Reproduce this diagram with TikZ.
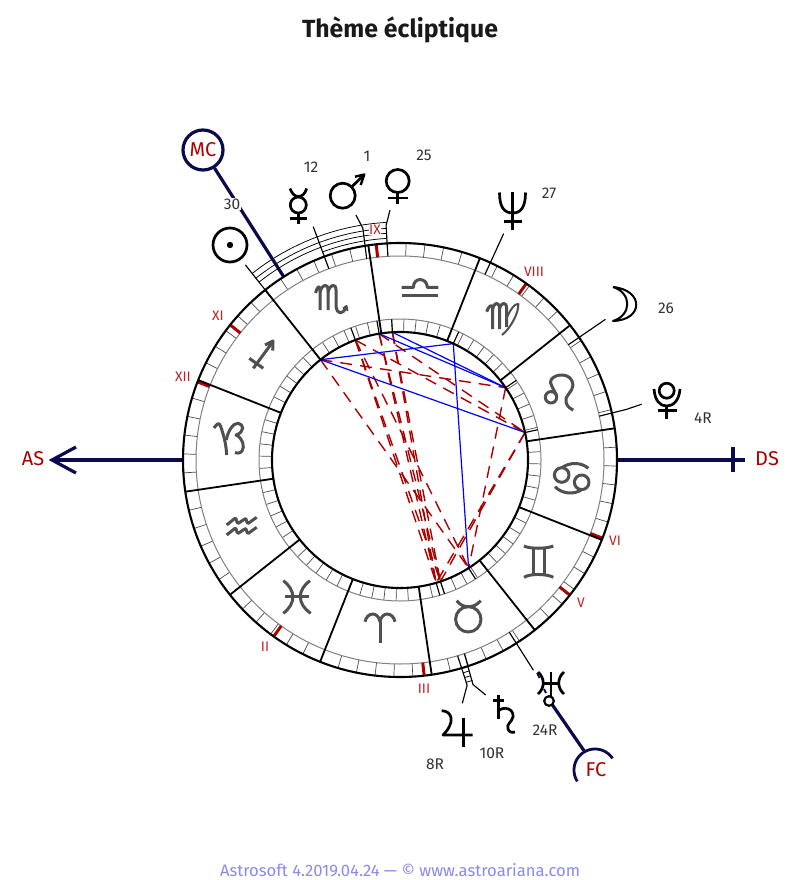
\documentclass[tikz,border=0pt]{standalone}
\usepackage{fontspec}
\setmainfont{Fira Sans}
\definecolor{navy}{HTML}{0A0A4E}
\definecolor{dred}{HTML}{AA0000}
\definecolor{lred}{HTML}{C02020}
\definecolor{dgrey}{HTML}{505050}
\definecolor{numgrey}{HTML}{333333}
\definecolor{foot}{HTML}{8A8AF0}
\tikzset{
 x=1pt,y=-1pt,
 ringline/.style={black,line width=2.1pt},
 thinring/.style={draw=gray,line width=1pt},
 tickline/.style={draw=black!70,line width=0.7pt},
 cusp/.style={black,line width=1.8pt},
 leader/.style={black,line width=1.15pt},
 track/.style={black,line width=0.75pt},
 axisline/.style={navy,line width=3.2pt},
 houseline/.style={dred,line width=3pt},
 housetext/.style={text=lred,font=\fontsize{13.8}{15}\selectfont,inner sep=0.5pt},
 axistext/.style={text=dred,font=\fontsize{20}{22}\selectfont,inner sep=0pt},
 numtext/.style={text=numgrey,font=\fontsize{15.5}{17}\selectfont,inner sep=1pt},
 bluea/.style={blue,line width=1.2pt},
 reda/.style={dred,line width=1.4pt,dash pattern=on 12pt off 8pt},
 sign/.style={dgrey,line width=3pt,line join=round},
 planet/.style={black,line width=2.7pt,line join=round},
}
\begin{document}
\begin{tikzpicture}
\useasboundingbox (0,0) rectangle (800,880);
\fill[white] (0,0) rectangle (800,880);
\node[font=\fontsize{24.8}{28}\selectfont\bfseries,text=black!90] (title) at (400,30) {Thème écliptique};
\node[font=\fontsize{16.6}{19}\selectfont,text=foot] (footer) at (400,870) {Astrosoft 4.2019.04.24 — © www.astroariana.com};
\begin{scope}[shift={(400,460)}]
% planet points
\coordinate (cSu) at (-128.4:128); \coordinate (cMe) at (-110.4:128); \coordinate (cMa) at (-99.4:128);
\coordinate (cVe) at (-93.4:128);  \coordinate (cNe) at (-65.4:128);  \coordinate (cMo) at (-34.4:128);
\coordinate (cPl) at (-12.4:128);  \coordinate (cUr) at (-302.4:128); \coordinate (cSa) at (-288.4:128);
\coordinate (cJu) at (-286.4:128);
% aspects
\foreach \a/\b in {cMe/cJu,cMe/cSa,cMa/cJu,cMa/cSa,cVe/cJu,cVe/cSa,cSu/cUr,cMe/cUr,cSu/cMo,cMe/cPl,cMa/cPl,cMo/cUr,cPl/cJu,cPl/cSa}
  \draw[reda] (\a) -- (\b);
\foreach \a/\b in {cSu/cNe,cSu/cPl,cMa/cMo,cVe/cMo,cNe/cUr}
  \draw[bluea] (\a) -- (\b);
% ticks
\foreach \k in {0,...,71}{
  \draw[tickline] (-8.4-5*\k:128) -- (-8.4-5*\k:141);
  \draw[tickline] (-8.4-5*\k:204) -- (-8.4-5*\k:217);
}
\draw[thinring] (0,0) circle[radius=141pt];
\draw[thinring] (0,0) circle[radius=204pt];
% house cusps
\foreach \a in {96.3,54.4,338.9,321.5,276.4,234.4,158.9,141.5}
  \draw[houseline] (-\a:204) -- (-\a:217);
% sign boundaries
\foreach \k in {0,...,11}
  \draw[cusp] (-8.4-30*\k:128) -- (-8.4-30*\k:217);
% planet ticks inner
\foreach \a in {128.4,110.4,99.4,93.4,65.4,34.4,12.4,302.4,288.4,286.4}
  \draw[leader] (-\a:128) -- (-\a:141);
\draw[ringline] (0,0) circle[radius=128pt];
\coordinate (mcring) at (-122.4:217);
\coordinate (asring) at (180:217);
\coordinate (dsring) at (0:217);
\end{scope}
% axes
\node[circle,draw=navy,line width=3.2pt,minimum size=40pt,inner sep=0pt,fill=white,text=dred,font=\fontsize{20}{22}\selectfont] (MC) at (203,150) {MC};
\draw[axisline] (mcring) -- (MC);
\coordinate (asend) at (52,460);
\coordinate (dsend) at (745,460);
\draw[axisline] (asring) -- (asend);
\draw[axisline,line join=miter] (76,447) -- (asend) -- (76,473);
\draw[axisline] (dsring) -- (dsend);
\draw[axisline] (733,447) -- (733,472);
\node[axistext] (AS) at (33,459) {AS};
\node[axistext] (DS) at (767,459) {DS};
\node[axistext] (FC) at (596,770) {FC};
\draw[axisline] (584,750.7) -- (552.5,705);
\draw[axisline,line width=2.8pt] plot[domain=33.7:212.6,samples=40] ({595+21*cos(\x)},{770-21*sin(\x)});
\draw[navy,line width=1.6pt] (537,673) -- (539.5,678);
\draw[navy,line width=2pt] (544,689) -- (546,693);
\begin{scope}[shift={(400,460)}]
\draw[ringline] (0,0) circle[radius=217pt];
\foreach \a in {128.4,110.4,65.4,34.4,302.4}
  \draw[leader] (-\a:204) -- (-\a:249);
\coordinate (mak) at (-99.1:234.7); \draw[leader] (-99.4:204) -- (mak) -- (-100.2:249);
\coordinate (vek) at (-93.4:235);   \draw[leader] (-93.4:204) -- (vek) -- (-92.3:250);
\coordinate (plk) at (-12.6:232);   \draw[leader] (-12.4:204) -- (plk) -- (-13:248);
\coordinate (juk) at (-286.6:235);  \draw[leader] (-286.4:204) -- (juk) -- (62.3,243.3);
\coordinate (sak) at (-288:236);    \draw[leader] (-288.4:204) -- (sak) -- (85.7,235);
% tracks
\draw[track] plot[domain=93.4:110.4,samples=20] (-\x:222);
\foreach \r in {227,232,238}
  \draw[track] plot[domain=93.4:128.4,samples=36] (-\x:\r);
\foreach \r in {222,227,232}
  \draw[track] (-286.5:\r) -- (-288.2:\r);
\end{scope}
% labels
\node[housetext,fill=white] (hIX) at (375,230) {IX};
\node[housetext] (hVIII) at (534,272) {VIII};
\node[housetext] (hVI) at (615,541) {VI};
\node[housetext] (hV) at (581,603) {V};
\node[housetext] (hIII) at (424,689) {III};
\node[housetext] (hII) at (265,647) {II};
\node[housetext] (hXII) at (183,377) {XII};
\node[housetext] (hXI) at (218,316) {XI};
\node[numtext,fill=white] (n30) at (232,204) {30};
\node[numtext] (n12) at (311,167) {12};
\node[numtext] (n1) at (367,156) {1};
\node[numtext] (n25) at (424,155) {25};
\node[numtext] (n27) at (549,193) {27};
\node[numtext] (n26) at (666,308) {26};
\node[numtext] (n4R) at (703,418) {4R};
\node[numtext] (n24R) at (545,730) {24R};
\node[numtext] (n10R) at (492,753) {10R};
\node[numtext] (n8R) at (435,764) {8R};
% zodiac glyphs
\begin{scope}[sign]
% Libra
\draw (401.7,295.7) -- (438.3,295.7);
\draw (401.7,287.3) -- (413.5,287.3) .. controls (413,277) and (427,277) .. (427.3,287.3) -- (438.3,287.3);
% Scorpio
\draw (315.5,293) .. controls (317,287) and (320,284) .. (320,290) -- (320,310);
\draw (320,292) .. controls (322,284) and (328,283) .. (328,290) -- (328,310);
\draw (328,292) .. controls (330,284) and (336,283) .. (336,290) -- (336,306) .. controls (337,315) and (343,315) .. (346,307);
\draw[line width=2pt] (343,308.5) -- (346.5,306) -- (347.5,311);
% Sagittarius
\draw (253.3,368.3) -- (273,341.5);
\draw (265,345) -- (273,341) -- (272.7,350.5);
\draw (249.3,358.3) -- (263.3,368.3);
% Capricorn
\draw (214,428) .. controls (216,425) and (219,421) .. (220.5,426) .. controls (224,436) and (226,444) .. (226.7,455);
\draw (226.3,440) .. controls (228,431) and (233,423) .. (238,423.3) .. controls (244,424) and (245,432) .. (236,435) .. controls (243,438) and (245,447) .. (242,451) .. controls (240,454) and (236,453) .. (235,452.5);
% Aquarius
\foreach \d in {0,10}{
\draw[yshift=-\d pt] (226.7,525) -- (235,518.3) .. controls (237,518) and (236,523) .. (238.3,523.3) -- (245,518.8) .. controls (247,518) and (246,523) .. (248.3,523.3) -- (256.7,517.3);
}
% Pisces
\draw (283.3,580.7) .. controls (296,590) and (296,604) .. (283.3,613.3);
\draw (310,580.7) .. controls (297,590) and (297,604) .. (310.7,613.3);
\draw (285,596.7) -- (309.3,596.7);
% Aries
\draw (380,643.3) -- (380,621.7);
\draw (365,621.7) .. controls (367,612) and (378,611) .. (380,621.7) .. controls (382,611) and (393,612) .. (395,621.7);
% Taurus
\draw (468.3,619.3) circle[radius=12.7pt];
\draw (456.7,600.7) .. controls (460,605) and (464,606.7) .. (468.3,606.7) .. controls (473,606.7) and (477,605) .. (480.7,600.7);
% Gemini
\draw (524,546) .. controls (530,549) and (546,549) .. (553.3,546);
\draw (524,577.3) .. controls (530,573.5) and (546,573.5) .. (553.3,577.3);
\draw (533.3,548.5) -- (533.3,574.5);
\draw (544,548.5) -- (544,574.5);
% Cancer
\draw (561.7,475) circle[radius=7.3pt];
\draw (581.7,482.3) circle[radius=7.3pt];
\draw (561.7,467.7) .. controls (570,462) and (581,462) .. (588.3,468.3);
\draw (581.7,489.6) .. controls (574,495) and (562,494) .. (555,486.7);
% Leo
\draw (551,397.3) circle[radius=5.7pt];
\draw (556.5,395) .. controls (553,388) and (549,383) .. (551,380) .. controls (555,373) and (572,372) .. (573,385) .. controls (573,392) and (564,396) .. (566,402) .. controls (567,407) and (571,409) .. (573.3,410);
% Virgo
\draw (486.7,311.7) .. controls (488,307) and (492.7,302) .. (492.7,309) -- (492.7,329);
\draw (492.7,309) .. controls (494,302) and (499.5,301) .. (499.5,309) -- (499.5,329);
\draw (499.5,309) .. controls (501,302) and (506.7,301) .. (506.7,309) -- (506.7,327);
\draw[line width=2pt] (506.7,318) .. controls (510,310) and (515,303) .. (518.3,304) .. controls (519,312) and (511,328) .. (502,335);
\end{scope}
% planet glyphs
\begin{scope}[planet]
% Sun
\draw (230,245) circle[radius=17pt];
\fill (230,245) circle[radius=3.2pt];
% Mercury
\draw (298.3,205) circle[radius=8pt];
\draw (290,188.5) .. controls (292,194) and (295,196.5) .. (298.3,196.5) .. controls (302,196.5) and (305,194) .. (306.7,188.5);
\draw (298.3,213) -- (298.3,223.5);
\draw (290,218.3) -- (306.7,218.3);
% Mars
\draw (342.7,195.7) circle[radius=12.5pt];
\draw (351.5,187) -- (364,175);
\draw[line width=2.4pt] (355,176.7) -- (364.3,174.5) -- (360.7,185);
% Venus
\draw (397.7,181) circle[radius=11.5pt];
\draw (397.7,192.5) -- (397.7,203.5);
\draw (387.5,198) -- (407.5,198);
% Neptune
\draw (512.7,191.5) -- (512.7,230);
\draw (499.5,192.5) .. controls (499.5,207) and (504,213) .. (512.7,213) .. controls (521,213) and (525.5,207) .. (525.5,192.5);
\draw (504,221.7) -- (522,221.7);
% Moon
\draw[line width=2pt] (613,287) .. controls (644,290) and (644,320) .. (613,321) .. controls (632,315) and (632,293) .. (613,287);
% Pluto
\draw (666.7,390.7) circle[radius=7.5pt];
\draw (654,389) .. controls (655,401) and (660,406) .. (666.7,406) .. controls (673,406) and (679,401) .. (680,389);
\draw (666.7,406) -- (666.7,418.5);
\draw (657.5,410.5) -- (676.5,410.5);
% Uranus
\draw (538,672) .. controls (545,678) and (545,688) .. (538,694);
\draw (564,672) .. controls (557,678) and (557,688) .. (564,694);
\draw (543.5,683.3) -- (558.5,683.3);
\draw (551,672) -- (551,696);
\draw[line width=2.2pt] (549,701) circle[radius=4.8pt];
% Saturn
\draw (498.3,695) -- (498.3,718.5);
\draw (493,700.7) -- (503.5,700.7);
\draw (498.3,711) .. controls (503,706) and (514,708) .. (513,717) .. controls (512,722) and (506,724) .. (508,729) .. controls (509,732) and (512,733) .. (515,732);
% Jupiter
\draw (441.7,710.7) .. controls (452,711) and (456,722) .. (443,735) -- (472.7,735);
\draw (463.3,718) -- (463.3,746.7);
\end{scope}
\end{tikzpicture}
\end{document}
